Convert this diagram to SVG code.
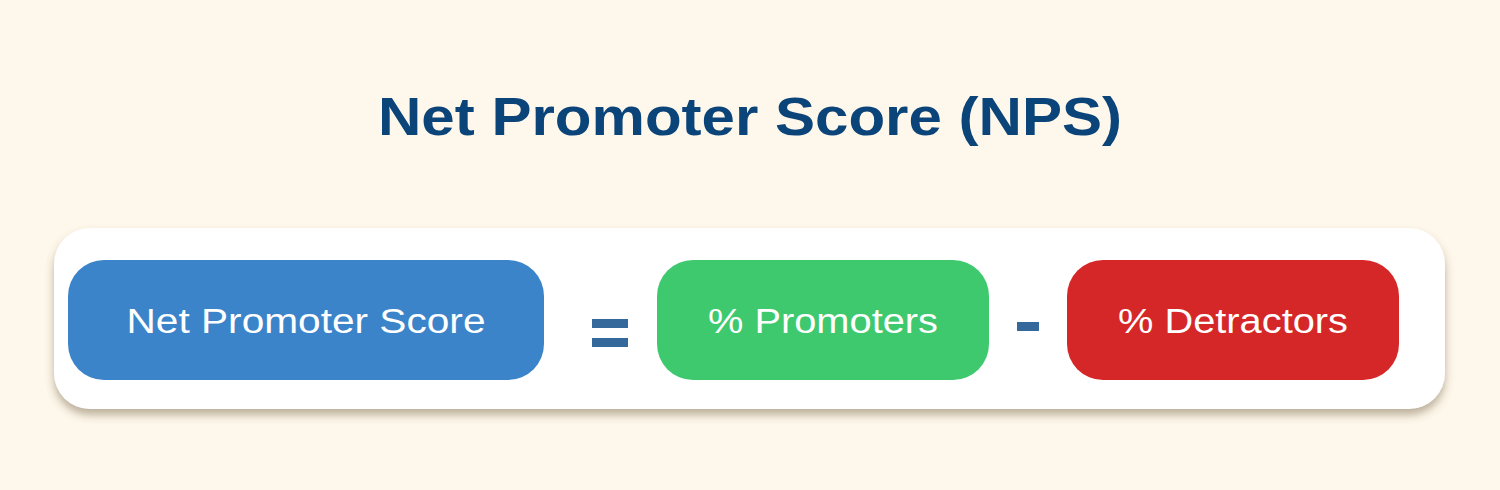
<svg xmlns="http://www.w3.org/2000/svg" width="1500" height="490" viewBox="0 0 1500 490">
  <defs>
    <filter id="shadow" x="-5%" y="-20%" width="110%" height="150%">
      <feDropShadow dx="0" dy="6" stdDeviation="4" flood-color="#6b5a3e" flood-opacity="0.45"/>
    </filter>
  </defs>
  <style>
    .title { font-family: "Liberation Sans", Arial, sans-serif; font-weight: 700; font-size: 54px; fill: #0B4479; }
    .label { font-family: "Liberation Sans", Arial, sans-serif; font-size: 35px; fill: #ffffff; }
    .op { fill: #35689B; }
  </style>
  <rect x="0" y="0" width="1500" height="490" fill="#FEF7EB"/>
  <text class="title" x="750" y="135" text-anchor="middle" textLength="744" lengthAdjust="spacingAndGlyphs">Net Promoter Score (NPS)</text>
  <g id="card">
    <rect x="54" y="228" width="1391" height="181" rx="36" fill="#ffffff" filter="url(#shadow)"/>
  </g>
  <g id="node-nps">
    <rect x="68" y="260" width="476" height="120" rx="36" fill="#3B84CA"/>
    <text class="label" x="306" y="333" text-anchor="middle" textLength="359" lengthAdjust="spacingAndGlyphs">Net Promoter Score</text>
  </g>
  <g id="node-promoters">
    <rect x="657" y="260" width="332" height="120" rx="36" fill="#3EC96F"/>
    <text class="label" x="823" y="333" text-anchor="middle" textLength="230" lengthAdjust="spacingAndGlyphs">% Promoters</text>
  </g>
  <g id="node-detractors">
    <rect x="1067" y="260" width="332" height="120" rx="36" fill="#D62728"/>
    <text class="label" x="1233" y="333" text-anchor="middle" textLength="230" lengthAdjust="spacingAndGlyphs">% Detractors</text>
  </g>
  <g id="connectors">
    <rect class="op" x="592" y="319" width="36" height="9"/>
    <rect class="op" x="592" y="338" width="36" height="9"/>
    <rect class="op" x="1017" y="322" width="22" height="9"/>
  </g>
</svg>
